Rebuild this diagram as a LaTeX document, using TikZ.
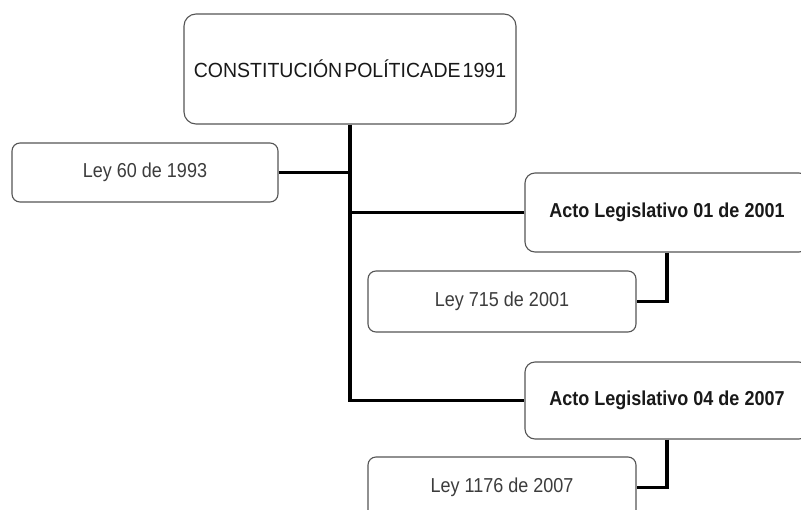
\documentclass[tikz,border=0pt]{standalone}
\usepackage{fontspec}
\setmainfont{Liberation Sans}
\definecolor{boxline}{RGB}{85,85,85}
\definecolor{lawtext}{RGB}{60,60,60}
% slightly tall lettering for the box labels
\newcommand{\tall}[1]{\scalebox{1}[1.12]{#1}}
\begin{document}
\begin{tikzpicture}[x=1pt,y=-1pt,
  box/.style={draw=boxline,line width=1.1pt,fill=white,inner sep=0pt,align=center},
  rootbox/.style={box,rounded corners=12pt,font=\fontsize{19.5}{22}\selectfont,text=black!90},
  actbox/.style={box,rounded corners=10pt,font=\bfseries\fontsize{18}{21}\selectfont,text=black!90},
  lawbox/.style={box,rounded corners=8pt,font=\fontsize{18}{21}\selectfont,text=lawtext},
  conn/.style={line width=3.2pt,black}]
\useasboundingbox (0,0) rectangle (801,509);
\clip (0,0) rectangle (801,509);

% boxes
\node[rootbox,minimum width=332pt,minimum height=110pt] (root) at (350,69)
  {\scalebox{1}[1.05]{CONSTITUCIÓN\hspace{2pt}POLÍTICA\hspace{0.5pt}DE\hspace{2pt}1991}};
\node[lawbox,minimum width=266pt,minimum height=59pt] (ley60) at (145,172.5) {\tall{Ley 60 de 1993}};
\node[actbox,minimum width=284pt,minimum height=79pt] (acto1) at (667,212.5) {\tall{Acto Legislativo 01 de 2001}};
\node[lawbox,minimum width=268pt,minimum height=61pt] (ley715) at (502,301.5) {\tall{Ley 715 de 2001}};
\node[actbox,minimum width=284pt,minimum height=77pt] (acto4) at (667,400.5) {\tall{Acto Legislativo 04 de 2007}};
\node[lawbox,minimum width=268pt,minimum height=61pt] (ley1176) at (502,487.5) {\tall{Ley 1176 de 2007}};

% connectors
\draw[conn] (root.south) |- (acto4.west);
\draw[conn] (ley60.east) -- (ley60.east -| root.south);
\draw[conn] (acto1.west) -- (acto1.west -| root.south);
\draw[conn] (acto1.south) |- (ley715.east);
\draw[conn] (acto4.south) |- (ley1176.east);
\end{tikzpicture}
\end{document}
